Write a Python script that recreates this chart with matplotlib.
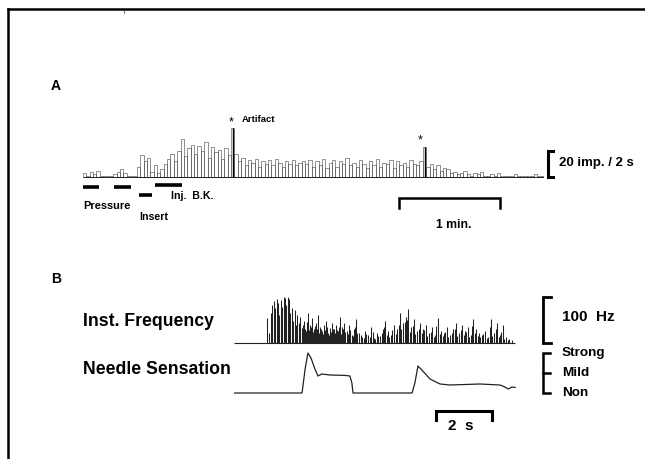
import matplotlib
matplotlib.use("Agg")
import matplotlib.pyplot as plt
from matplotlib.lines import Line2D

W, H = 645, 459
plt.rcParams["font.family"] = ["Liberation Sans", "DejaVu Sans"]

# ---- panel A: discharge rate histogram (impulses per 2 s bin) ----
bin_width = 2.0
rate_a = [3, 1, 4, 2, 5, 1,
          1, 1, 1,
          2, 4, 6, 3,
          1, 1, 1,
          8, 17, 12, 15,
          4, 9, 3, 6,
          10, 14, 18, 12, 20,
          29, 16, 22, 25, 18, 24, 20, 27, 15, 23, 19, 21, 14, 22, 17,
          38,
          18, 12, 15, 9, 13, 11, 14, 8, 12, 10, 13, 9, 14, 11, 8, 12, 10, 13, 9, 11, 12,
          10, 13, 8, 12, 9, 14, 7, 11, 13, 8, 12, 10, 15, 9, 11, 8, 13, 10, 7, 12, 9, 14,
          8, 11, 10, 13, 7, 12, 9, 11, 8, 13, 10, 9, 12,
          23,
          8, 10, 6, 9, 5, 7, 6,
          3, 4, 2, 3, 5, 2, 1, 3, 2, 4, 1, 1, 2, 1, 3, 1, 1, 1, 1, 2, 1, 1, 1, 1, 1, 2, 1, 1]
starred_bins = [44, 101]
pressure_on = [0.0, 18.4]
pressure_off = [9.5, 28.5]
insert_on = [33.0]
insert_off = [41.0]
inj_on = [43.0]
inj_off = [59.0]

# ---- panel B: instantaneous frequency (s, Hz) and needle sensation ----
spike_t = [1.18, 1.25, 1.32, 1.36, 1.43, 1.46, 1.54, 1.57, 1.61, 1.68, 1.71, 1.79,
           1.82, 1.86, 1.93, 1.96, 2.00, 2.07, 2.11, 2.18, 2.21, 2.25, 2.32, 2.36,
           2.43, 2.50, 2.57, 2.64, 2.71, 2.79, 2.86, 2.93, 3.00, 3.07, 3.14, 3.21,
           3.29, 3.36, 3.43, 3.50, 3.57, 3.64, 3.71, 3.79, 3.86, 3.93,
           4.04, 4.11, 4.21, 4.29, 4.36, 4.46, 4.57, 4.68, 4.79, 4.89, 5.00, 5.11,
           5.21, 5.32, 5.39, 5.50, 5.61, 5.71, 5.82, 5.93, 6.04, 6.14, 6.21, 6.32,
           6.43, 6.54, 6.64, 6.75, 6.86, 6.96, 7.07, 7.18, 7.29, 7.39, 7.50, 7.61,
           7.71, 7.82, 7.93, 8.04, 8.14, 8.25, 8.36, 8.46, 8.54, 8.64, 8.75, 8.86,
           8.96, 9.07, 9.18, 9.29, 9.39, 9.50, 9.61, 9.71, 9.82, 9.93,
           2.47, 2.54, 2.61, 2.68, 2.75, 2.82, 2.89, 2.96, 3.04, 3.11, 3.18, 3.25,
           3.32, 3.40, 3.47, 3.54, 3.61, 3.68, 3.75, 3.82, 3.89, 3.97,
           4.07, 4.16, 4.25, 4.33, 4.41, 4.52, 4.63, 4.73, 4.84, 4.95, 5.05, 5.16,
           5.27, 5.36, 5.45, 5.55, 5.66, 5.77, 5.88, 5.98, 6.09, 6.18, 6.27, 6.38,
           6.48, 6.59, 6.70, 6.80, 6.91, 7.02, 7.13, 7.23, 7.34, 7.45, 7.55, 7.66,
           7.77, 7.88, 7.98, 8.09, 8.20, 8.30, 8.41, 8.50, 8.59, 8.70, 8.80, 8.91,
           9.02, 9.13, 9.23, 9.34, 9.45, 9.55, 9.66, 9.77]
spike_hz = [54, 22, 65, 83, 91, 76, 96, 87, 61, 93, 78, 100,
            98, 83, 100, 96, 65, 76, 48, 72, 39, 61, 43, 57,
            33, 48, 26, 65, 39, 54, 30, 43, 61, 35, 26, 39,
            48, 22, 33, 43, 30, 39, 26, 57, 35, 43,
            26, 39, 17, 30, 52, 22, 13, 26, 17, 35, 11, 22,
            15, 30, 48, 26, 17, 39, 30, 65, 43, 57, 74, 35,
            52, 26, 43, 30, 39, 22, 35, 17, 54, 26, 22, 35,
            17, 30, 43, 22, 39, 26, 35, 17, 52, 30, 22, 17,
            26, 13, 52, 22, 43, 17, 39, 13, 9, 7,
            40, 30, 45, 28, 35, 25, 38, 30, 22, 30, 20, 28,
            35, 18, 25, 30, 22, 28, 35, 20, 30, 25,
            20, 28, 15, 35, 22, 18, 10, 20, 12, 25, 8, 15,
            22, 35, 18, 12, 28, 20, 40, 30, 45, 50, 25, 38,
            20, 30, 22, 28, 15, 25, 12, 38, 20, 15, 25, 12,
            22, 30, 15, 28, 18, 25, 12, 38, 22, 15, 12, 20,
            10, 35, 15, 30, 12, 25, 8, 6]
trace_end = 10.05
sens_t = [0.0, 2.43, 2.54, 2.64, 2.75, 2.89, 3.00, 3.14, 3.43, 3.96, 4.14, 4.21,
          4.25, 6.36, 6.46, 6.57, 6.71, 7.00, 7.36, 7.71, 8.79, 9.50, 9.68, 9.79,
          9.93, 10.04]
sens_level = [0.0, 0.0, 1.2, 2.0, 1.75, 1.2, 0.85, 0.95, 0.9, 0.88, 0.85, 0.5,
              0.0, 0.0, 0.5, 1.35, 1.15, 0.7, 0.45, 0.4, 0.45, 0.4, 0.3, 0.2,
              0.3, 0.28]
sens_ticks = [0, 1, 2]
sens_names = ["Non", "Mild", "Strong"]


def axes_px(fig, x0, y0, x1, y1):
    ax = fig.add_axes([x0 / W, 1 - y1 / H, (x1 - x0) / W, (y1 - y0) / H])
    ax.set_axis_off()
    return ax


def text_px(fig, x, y, s, **kw):
    kw.setdefault("va", "center")
    kw.setdefault("ha", "left")
    fig.text(x / W, 1 - y / H, s, **kw)


fig = plt.figure(figsize=(W / 100, H / 100), dpi=100)

# page frame
fig.add_artist(Line2D([8 / W, 1], [1 - 9 / H, 1 - 9 / H], color="black", lw=1.8))
fig.add_artist(Line2D([8 / W, 8 / W], [1 - 9 / H, 0], color="black", lw=1.8))
fig.add_artist(Line2D([124 / W, 124 / W], [1 - 10 / H, 1 - 13 / H], color="#555", lw=0.6))

# ---- A ----
axA = axes_px(fig, 83, 110, 544, 215)
axA.set_xlim(0, 274)
axA.set_ylim(-(215 - 177) / 1.3, (177 - 110) / 1.3)
left_edges = [i * bin_width for i in range(len(rate_a))]
axA.bar(left_edges, rate_a, width=bin_width, align="edge", fill=False,
        edgecolor="#555", linewidth=0.45)
axA.hlines(0, 0, len(rate_a) * bin_width, color="#222", lw=0.7)
for b in starred_bins:
    axA.vlines(b * bin_width + 1, 0, rate_a[b], color="black", lw=1.0)

axA.hlines([-7.7] * len(pressure_on), pressure_on, pressure_off, color="black", lw=2.6)
axA.hlines([-13.8], insert_on, insert_off, color="black", lw=2.6)
axA.hlines([-6.2], inj_on, inj_off, color="black", lw=2.6)

# 20 imp scale bar and 1 min bar
sb_t = 276.3
axA.plot([sb_t + 3, sb_t, sb_t, sb_t + 3], [20, 20, 0, 0], color="black", lw=2.2,
         clip_on=False, solid_joinstyle="miter")
axA.plot([187.8, 187.8, 247.8, 247.8], [-23.8, -16.2, -16.2, -23.8], color="black",
         lw=1.8, clip_on=False, solid_joinstyle="miter")

text_px(fig, 51, 86, "A", fontsize=10, fontweight="bold")
text_px(fig, 229, 122, "*", fontsize=9)
text_px(fig, 242, 120, "Artifact", fontsize=6.8, fontweight="bold")
text_px(fig, 418, 140, "*", fontsize=9)
text_px(fig, 83, 206, "Pressure", fontsize=7.9, fontweight="bold")
text_px(fig, 139, 217, "Insert", fontsize=7.7, fontweight="bold")
text_px(fig, 171, 196, "Inj.  B.K.", fontsize=7.6, fontweight="bold")
text_px(fig, 559, 163, "20 imp. / 2 s", fontsize=9.5, fontweight="bold")
text_px(fig, 454, 225, "1 min.", fontsize=8.7, fontweight="bold", ha="center")

# ---- B ----
text_px(fig, 51, 279, "B", fontsize=10, fontweight="bold")
text_px(fig, 83, 321, "Inst. Frequency", fontsize=12.7, fontweight="bold")
text_px(fig, 83, 370, "Needle Sensation", fontsize=12.7, fontweight="bold")

axF = axes_px(fig, 234, 292, 520, 348)
axF.set_xlim(0, 286 / 28)
axF.set_ylim(-5 / 0.46, (348 - 292) / 0.46 - 5 / 0.46)
axF.hlines(0, 0, trace_end, color="#222", lw=0.8)
axF.vlines(spike_t, 0, spike_hz, color="#222", lw=0.75)
fb_t = 309 / 28
axF.plot([fb_t + 0.3, fb_t, fb_t, fb_t + 0.3], [100, 100, 0, 0], color="black", lw=2.0,
         clip_on=False, solid_joinstyle="miter")
text_px(fig, 562, 317, "100  Hz", fontsize=11, fontweight="bold")

axS = axes_px(fig, 234, 345, 520, 400)
axS.set_xlim(0, 286 / 28)
axS.set_ylim(-0.35, 2.4)
axS.plot(sens_t, sens_level, color="#222", lw=0.9)
axS.plot([fb_t + 0.25, fb_t, fb_t, fb_t + 0.25], [2, 2, 0, 0], color="black", lw=1.8,
         clip_on=False, solid_joinstyle="miter")
axS.plot([fb_t, fb_t + 0.25], [1, 1], color="black", lw=1.8, clip_on=False)
for lv, name in zip(sens_ticks, sens_names):
    text_px(fig, 562, 393 - 20 * lv, name, fontsize=9.7, fontweight="bold")
axS.plot([7.21, 7.21, 9.21, 9.21], [-1.35, -0.9, -0.9, -1.35], color="black", lw=2.2,
         clip_on=False, solid_joinstyle="miter")
text_px(fig, 461, 426, "2  s", fontsize=11, fontweight="bold", ha="center")

fig.savefig("out.png", dpi=100)
